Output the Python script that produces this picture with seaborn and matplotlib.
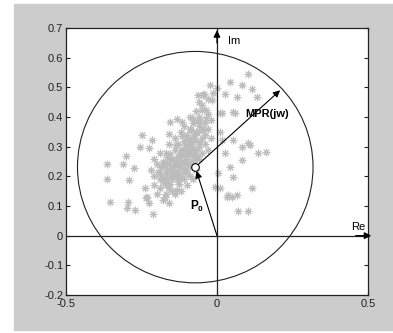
import matplotlib
matplotlib.use("Agg")
import matplotlib.pyplot as plt
import seaborn as sns
from matplotlib.patches import Circle, Rectangle

cloud_re = [
    # far left / lower left
    -0.364, -0.364, -0.354, -0.311, -0.301, -0.295, -0.291, -0.275, -0.298, -0.272,
    -0.255, -0.248, -0.238, -0.235, -0.232, -0.225, -0.225, -0.215, -0.212, -0.172,
    -0.156, -0.159, -0.132, -0.129, -0.132,
    # dense core
    -0.22, -0.21, -0.21, -0.20, -0.20, -0.19, -0.19, -0.19, -0.18, -0.18,
    -0.18, -0.17, -0.17, -0.17, -0.17, -0.16, -0.16, -0.16, -0.16, -0.15,
    -0.15, -0.15, -0.15, -0.14, -0.14, -0.14, -0.14, -0.14, -0.13, -0.13,
    -0.13, -0.13, -0.13, -0.12, -0.12, -0.12, -0.12, -0.12, -0.12, -0.11,
    -0.11, -0.11, -0.11, -0.11, -0.11, -0.10, -0.10, -0.10, -0.10, -0.10,
    -0.10, -0.09, -0.09, -0.09, -0.09, -0.09, -0.09, -0.08, -0.08, -0.08,
    -0.08, -0.08, -0.08, -0.07, -0.07, -0.07, -0.07, -0.07, -0.06, -0.06,
    -0.06, -0.06, -0.05, -0.05, -0.05, -0.05, -0.04, -0.04, -0.04, -0.03,
    -0.03, -0.03, -0.02, -0.02, -0.06, -0.03, -0.21, -0.19, -0.165, -0.145,
    -0.125, -0.105, -0.085, -0.065, -0.155, -0.135, -0.115, -0.095, -0.075, -0.185,
    -0.175, -0.165, -0.155, -0.145, -0.135, -0.125, -0.115, -0.105, -0.095, -0.085,
    -0.075, -0.065, -0.055, -0.045, -0.175, -0.165, -0.155, -0.145, -0.135, -0.125,
    -0.115, -0.105, -0.095, -0.085, -0.075, -0.065, -0.055, -0.195, -0.185, -0.175,
    -0.165, -0.155, -0.145, -0.135, -0.125, -0.115, -0.105, -0.095, -0.085, -0.035,
    # right side
    0.103, 0.043, 0.083, 0.116, 0.132, 0.066, 0.053, 0.010, 0.053, 0.083,
    0.103, 0.136, 0.162, 0.083, -0.023, 0.000, -0.013, -0.046, -0.017, -0.036,
    -0.063, -0.043, 0.026, 0.017, 0.060, -0.116, -0.083, -0.050, 0.010, 0.017,
    0.109, 0.026, 0.043, 0.003, 0.053, -0.007, 0.010, 0.036, 0.066, 0.116,
    0.033, 0.050, 0.070, 0.103,
]
cloud_im = [
    0.241, 0.190, 0.113, 0.241, 0.268, 0.113, 0.187, 0.227, 0.093, 0.086,
    0.298, 0.339, 0.160, 0.126, 0.130, 0.295, 0.110, 0.322, 0.072, 0.130,
    0.383, 0.342, 0.393, 0.197, 0.153,
    0.22, 0.17, 0.26, 0.14, 0.24, 0.16, 0.19, 0.28, 0.12, 0.18,
    0.25, 0.14, 0.17, 0.21, 0.28, 0.11, 0.16, 0.24, 0.31, 0.15,
    0.19, 0.22, 0.26, 0.14, 0.24, 0.29, 0.33, 0.20, 0.18, 0.21,
    0.27, 0.31, 0.24, 0.15, 0.23, 0.25, 0.29, 0.35, 0.20, 0.19,
    0.22, 0.27, 0.32, 0.37, 0.25, 0.17, 0.24, 0.26, 0.30, 0.34,
    0.21, 0.20, 0.23, 0.28, 0.31, 0.36, 0.40, 0.19, 0.25, 0.27,
    0.33, 0.38, 0.30, 0.22, 0.29, 0.35, 0.42, 0.32, 0.26, 0.30,
    0.37, 0.40, 0.28, 0.33, 0.44, 0.36, 0.31, 0.38, 0.34, 0.41,
    0.29, 0.36, 0.39, 0.33, 0.45, 0.46, 0.20, 0.21, 0.19, 0.21,
    0.23, 0.22, 0.24, 0.27, 0.26, 0.25, 0.28, 0.29, 0.34, 0.23,
    0.195, 0.225, 0.205, 0.235, 0.215, 0.265, 0.245, 0.285, 0.275, 0.315,
    0.285, 0.345, 0.315, 0.355, 0.235, 0.265, 0.275, 0.205, 0.305, 0.195,
    0.335, 0.305, 0.325, 0.355, 0.255, 0.385, 0.385, 0.215, 0.205, 0.245,
    0.185, 0.175, 0.225, 0.255, 0.175, 0.285, 0.215, 0.285, 0.245, 0.395,
    # right side
    0.544, 0.517, 0.507, 0.494, 0.467, 0.467, 0.416, 0.413, 0.322, 0.298,
    0.312, 0.278, 0.281, 0.254, 0.507, 0.497, 0.480, 0.474, 0.457, 0.423,
    0.474, 0.477, 0.477, 0.413, 0.413, 0.383, 0.396, 0.423, 0.349, 0.322,
    0.305, 0.278, 0.231, 0.211, 0.197, 0.163, 0.160, 0.137, 0.137, 0.160,
    0.130, 0.130, 0.083, 0.083,
]

p0 = (-0.072, 0.231)
radius = 0.39
mpr_tip = (0.209, 0.490)

x_ticks = [-0.5, 0, 0.5]
y_ticks = [-0.2, -0.1, 0, 0.1, 0.2, 0.3, 0.4, 0.5, 0.6, 0.7]

plt.rcParams["font.family"] = ["Liberation Sans", "DejaVu Sans"]
plt.rcParams["mathtext.fontset"] = "custom"
plt.rcParams["mathtext.rm"] = "Liberation Sans"
plt.rcParams["mathtext.bf"] = "Liberation Sans:bold"

fig = plt.figure(figsize=(3.93, 3.33), dpi=100, facecolor="white")
fig.patches.append(Rectangle((14 / 393, 3 / 333), 379 / 393, 326 / 333,
                             transform=fig.transFigure, color="#cccccc", zorder=-10))
ax = fig.add_axes([66 / 393, 38 / 333, 302 / 393, 267 / 333])
ax.set_facecolor("white")

sns.scatterplot(x=cloud_re, y=cloud_im, marker=(8, 2, 0), color="#bcbcbc",
                s=24, linewidth=0.75, ax=ax, zorder=2)

# uncertainty circle
ax.add_patch(Circle(p0, radius, fill=False, edgecolor="#222222", lw=0.8, zorder=3))

# Re / Im axes with arrows
ax.plot([-0.5, 0.5], [0, 0], color="#222222", lw=0.9, zorder=3)
ax.plot([0, 0], [-0.2, 0.7], color="#222222", lw=0.9, zorder=3)
ax.annotate("", xy=(0.52, 0), xytext=(0.45, 0), annotation_clip=False,
            arrowprops=dict(arrowstyle="-|>", color="black", lw=0.9, mutation_scale=10))
ax.annotate("", xy=(0, 0.702), xytext=(0, 0.64), annotation_clip=False,
            arrowprops=dict(arrowstyle="-|>", color="black", lw=0.9, mutation_scale=10))

# P0 and MPR vectors
ax.annotate("", xy=p0, xytext=(0, 0),
            arrowprops=dict(arrowstyle="-|>", color="black", lw=0.8, mutation_scale=10,
                            shrinkA=0, shrinkB=3))
ax.annotate("", xy=mpr_tip, xytext=p0,
            arrowprops=dict(arrowstyle="-|>", color="black", lw=0.8, mutation_scale=10,
                            shrinkA=3, shrinkB=0))
ax.plot([p0[0]], [p0[1]], marker="o", ms=5.5, mfc="white", mec="black", mew=0.8, zorder=5)

ax.text(0.165, 0.41, "MPR(jw)", fontsize=8, fontweight="bold", ha="center", va="center", zorder=6)
ax.text(-0.066, 0.10, r"$\mathbf{P_0}$", fontsize=8.5, ha="center", va="center", zorder=6)
ax.text(0.036, 0.655, "Im", fontsize=8, ha="left", va="center")
ax.text(0.443, 0.030, "Re", fontsize=8, ha="left", va="center")

ax.set_xlim(-0.5, 0.5)
ax.set_ylim(-0.2, 0.7)
ax.set_xticks(x_ticks)
ax.set_xticklabels(["-0.5", "0", "0.5"])
ax.set_yticks(y_ticks)
ax.set_yticklabels(["-0.2", "-0.1", "0", "0.1", "0.2", "0.3", "0.4", "0.5", "0.6", "0.7"])
ax.tick_params(direction="in", length=3, width=0.8, labelsize=8, colors="#222222",
               top=True, right=True)
ax.tick_params(axis="x", pad=3)
ax.tick_params(axis="y", pad=2)
for s in ax.spines.values():
    s.set_color("#222222")
    s.set_linewidth(0.9)
ax.set(xlabel=None, ylabel=None)

fig.savefig("out.png", dpi=100, facecolor="white")
